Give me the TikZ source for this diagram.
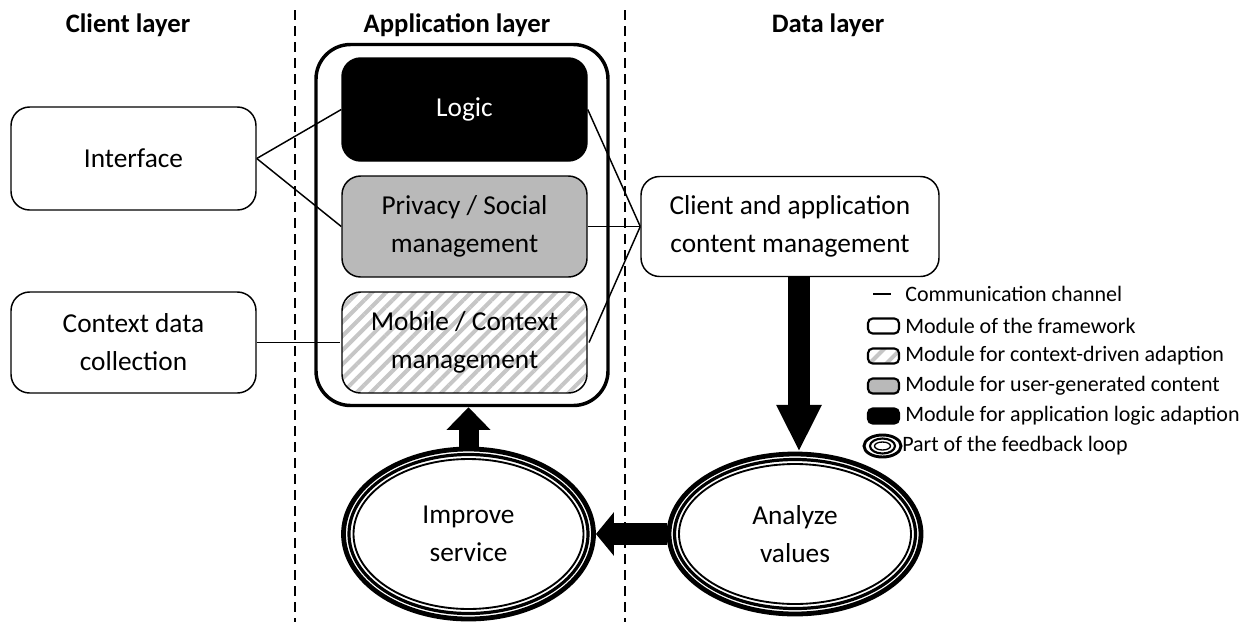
\documentclass[tikz,border=0pt]{standalone}
\usepackage{fontspec}
\setmainfont{Carlito}
\usetikzlibrary{shapes.geometric,patterns.meta,arrows.meta}
\begin{document}
\begin{tikzpicture}[x=0.75pt,y=-0.75pt,
  sz/.style 2 args={minimum width=#1*0.75pt, minimum height=#2*0.75pt},
  lbl/.style={font=\fontsize{20.5}{28.5}\selectfont, align=center},
  head/.style={font=\fontsize{20}{24}\selectfont\bfseries},
  module/.style={draw, line width=1.1pt, rounded corners=14pt, lbl, inner sep=0pt},
  logicbox/.style={module, fill=black, text=white},
  privbox/.style={module, fill=gray!55},
  mobbox/.style={module, pattern={Lines[angle=45,distance=7.5pt,line width=3pt]}, pattern color=gray!45},
  appbox/.style={draw, line width=2.6pt, rounded corners=26pt, inner sep=0pt},
  fb/.style={ellipse, draw, line width=3.6pt, lbl, inner sep=0pt},
  ring/.style={line width=2.4pt},
  ringin/.style={line width=1.4pt},
  conn/.style={line width=1.1pt},
  sep/.style={line width=1.8pt, dash pattern=on 7.5pt off 4.5pt},
  legtext/.style={font=\fontsize{16.5}{19}\selectfont, anchor=west, inner sep=0pt},
  legbox/.style={draw, line width=1.6pt, rounded corners=3.5pt, sz={31}{15}, inner sep=0pt}
]
\useasboundingbox (0,0) rectangle (1250,622);

% layer separators
\coordinate (s1a) at (295,10); \coordinate (s1b) at (295,622);
\coordinate (s2a) at (625,10); \coordinate (s2b) at (625,622);
\draw[sep] (s1a) -- (s1b);
\draw[sep] (s2a) -- (s2b);

% headers
\node[head] (h1) at (128,25) {Client layer};
\node[head] (h2) at (457,25) {Application layer};
\node[head] (h3) at (828,25) {Data layer};

% application container
\node[appbox, sz={292}{361}] (app) at (462,225) {};

% modules
\node[module, sz={245}{103}] (iface) at (133.5,158.5) {Interface};
\node[module, sz={245}{101}] (ctx) at (133.5,342.5) {Context data\\collection};
\node[logicbox, sz={245}{103}] (logic) at (464.5,109.5) {Logic};
\node[privbox, sz={245}{101}] (priv) at (464.5,226.5) {Privacy / Social\\management};
\node[mobbox, sz={245}{101}] (mob) at (464.5,342.5) {Mobile / Context\\management};
\node[module, sz={298}{100}] (cacm) at (790,226.5) {Client and application\\content management};

% connectors
\draw[conn] (iface.east) -- (logic.west);
\draw[conn] (iface.east) -- (priv.west);
\draw[conn] (ctx.east) -- (mob.west);
\draw[conn] (logic.east) -- (cacm.west);
\draw[conn] (priv.east) -- (cacm.west);
\draw[conn] (mob.east) -- (cacm.west);

% feedback loop
\node[fb, sz={250}{170}] (imp) at (468.5,534) {Improve\\service};
\draw[ring] (imp.center) ellipse [x radius=119.5, y radius=79.5];
\draw[ringin] (imp.center) ellipse [x radius=115, y radius=75];
\node[fb, sz={252}{160}] (ana) at (795,534) {Analyze\\values};
\draw[ring] (ana.center) ellipse [x radius=120.5, y radius=74.5];
\draw[ringin] (ana.center) ellipse [x radius=116, y radius=70];

% block arrows
\coordinate (dx) at (799,0);
\draw[line width=16.5pt, -{Triangle[width=31.5pt,length=35pt]}] (cacm.south -| dx) -- (ana.north -| dx);
\draw[line width=16.5pt, -{Triangle[width=32pt,length=13.5pt]}] (ana.west) -- (imp.east);
\draw[line width=15pt, -{Triangle[width=32pt,length=17pt]}] (imp.north) -- (imp.north |- app.south);

% legend
\coordinate (l0a) at (873,294); \coordinate (l0b) at (891,294);
\draw[line width=1.8pt] (l0a) -- (l0b);
\node[legtext] (t0) at (905,294) {Communication channel};
\node[legbox] (b1) at (883.5,326) {};
\node[legtext] (t1) at (905,326) {Module of the framework};
\node[legbox, pattern={Lines[angle=45,distance=9pt,line width=3pt]}, pattern color=gray!45] (b2) at (883.5,356) {};
\node[legtext] (t2) at (905,356) {Module for context-driven adaption};
\node[legbox, fill=gray!55] (b3) at (883.5,386) {};
\node[legtext] (t3) at (905,386) {Module for user-generated content};
\node[legbox, fill=black] (b4) at (883.5,416) {};
\node[legtext] (t4) at (905,416) {Module for application logic adaption};
\node[ellipse, draw, line width=2.2pt, sz={37}{22}, inner sep=0pt] (e5) at (882.5,446) {};
\draw[line width=1.6pt] (e5.center) ellipse [x radius=12.5, y radius=7.5];
\draw[line width=1pt] (e5.center) ellipse [x radius=8, y radius=4];
\node[legtext] (t5) at (902,446) {Part of the feedback loop};
\end{tikzpicture}
\end{document}
